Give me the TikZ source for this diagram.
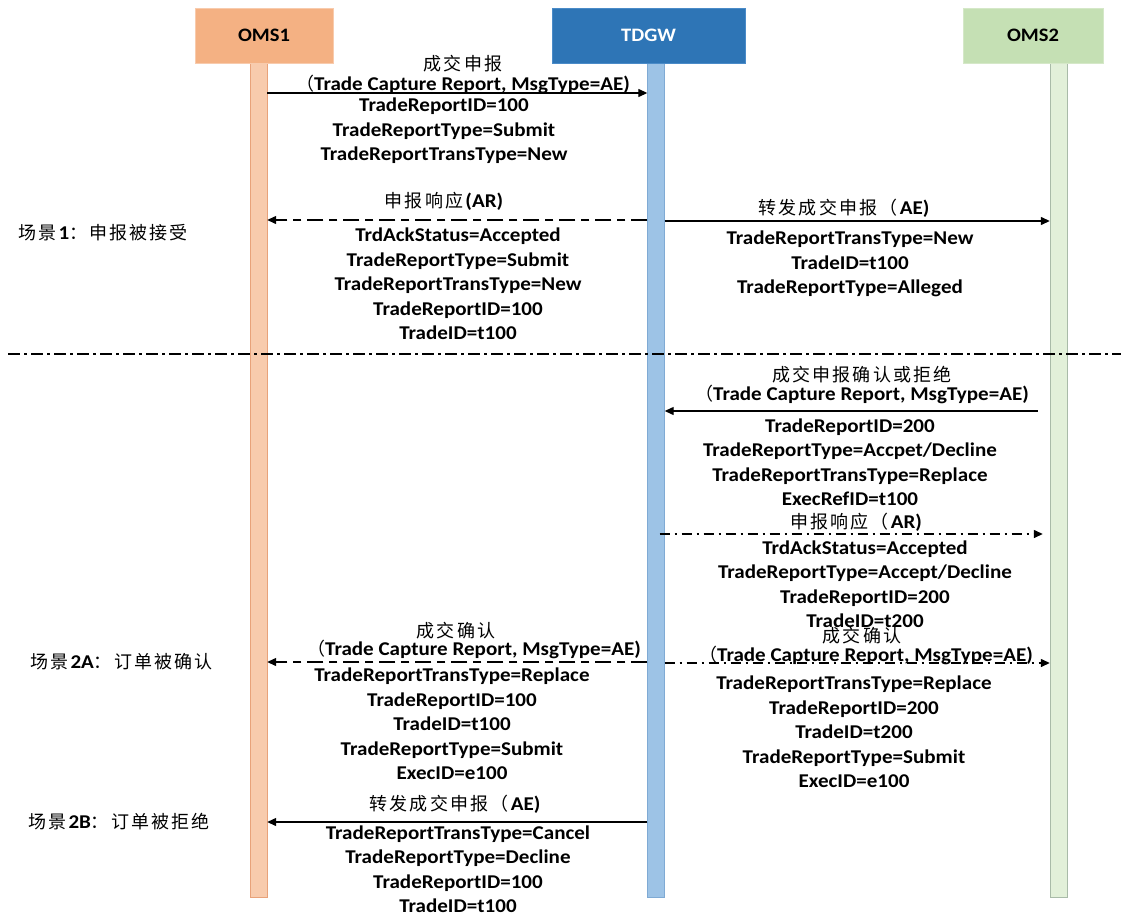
\documentclass[tikz,border=0pt]{standalone}
\usepackage{fontspec}
\setmainfont{Carlito}[FakeStretch=1.08]
\newfontfamily\cjk{Noto Sans CJK SC}[LetterSpace=12]
\usetikzlibrary{positioning,arrows.meta}
\definecolor{omsa}{HTML}{F4B183}
\definecolor{omsaline}{HTML}{F8CBAD}
\definecolor{omsalife}{HTML}{F8CBAD}
\definecolor{omsalifeline}{HTML}{E8A27A}
\definecolor{tdgw}{HTML}{2E75B6}
\definecolor{tdgwline}{HTML}{4A8BC8}
\definecolor{tdgwlife}{HTML}{9DC3E6}
\definecolor{tdgwlifeline}{HTML}{7FAAD4}
\definecolor{omsb}{HTML}{C5E0B4}
\definecolor{omsbline}{HTML}{D5E8C8}
\definecolor{omsblife}{HTML}{E2F0D9}
\definecolor{omsblifeline}{HTML}{A9BBA8}
\newcommand{\zh}[1]{{\cjk\mdseries\fontsize{18}{20}\selectfont #1}}

\begin{document}
\begin{tikzpicture}[x=1pt,y=-1pt,>={Triangle[length=9pt,width=8pt]}]
		\tikzstyle{head} = [draw, minimum width=138pt, minimum height=55pt, font=\bfseries\fontsize{19}{21}\selectfont]
		\tikzstyle{life} = [draw, minimum width=17pt, minimum height=834pt, inner sep=0pt]
		\tikzstyle{msg} = [align=center, inner sep=0pt, font=\bfseries\fontsize{19.5}{24.5}\selectfont]
		\tikzstyle{ttl} = [align=center, inner sep=0pt, font=\fontsize{19.5}{21}\selectfont]
		\tikzstyle{scene} = [anchor=west, inner sep=0pt, font=\fontsize{19.5}{21}\selectfont]
		\tikzstyle{wire} = [line width=1.3pt]
		\tikzstyle{ackdash} = [dash pattern=on 16pt off 6pt on 8pt off 6pt]
		\tikzstyle{dotdash} = [dash pattern=on 10pt off 5pt on 2pt off 5pt]
		\useasboundingbox (0,0) rectangle (1121,918);

		% lifelines
		\node [life, fill=omsalife, draw=omsalifeline] (l1) at (258.5,480) {};
		\node [life, fill=tdgwlife, draw=tdgwlifeline] (l2) at (656,480) {};
		\node [life, fill=omsblife, draw=omsblifeline] (l3) at (1058.5,480) {};
		\node [head, fill=omsa, draw=omsaline] (oms1) at (264,35.5) {OMS1};
		\node [head, fill=tdgw, draw=tdgwline, text=white, minimum width=193pt] (tdgw) at (648.5,35.5) {TDGW};
		\node [head, fill=omsb, draw=omsbline, minimum width=140pt] (oms2) at (1033,35.5) {OMS2};

		% scene 1
		\node [scene] (s1) at (18,233) {\zh{场景}\textbf{1}\zh{：申报被接受}};
		\draw[->,wire] (l1.east |- 0,93) -- (l2.west |- 0,93);
		\node [ttl] (t1) at (463,64) {\zh{成交申报}};
		\node [msg] (t1b) at (463,84) {\zh{（}Trade Capture Report, MsgType=AE)};
		\node [msg] (m1) at (444,131) {TradeReportID=100\\TradeReportType=Submit\\TradeReportTransType=New};

		\draw[->,wire,ackdash] (l2.west |- 0,220) -- (l1.east |- 0,220);
		\node [ttl] (t2) at (444,201) {\zh{申报响应}\textbf{(AR)}};
		\node [msg] (m2) at (458,284) {TrdAckStatus=Accepted\\TradeReportType=Submit\\TradeReportTransType=New\\TradeReportID=100\\TradeID=t100};

		\draw[->,wire] (l2.east |- 0,221) -- (l3.west |- 0,221);
		\node [ttl] (t3) at (844,208) {\zh{转发成交申报（}\textbf{AE)}};
		\node [msg] (m3) at (850,264) {TradeReportTransType=New\\TradeID=t100\\TradeReportType=Alleged};

		\coordinate (sepl) at (8,354);
		\coordinate (sepr) at (1121,354);
		\draw[wire,dash pattern=on 12pt off 4pt on 3pt off 4pt] (sepl) -- (sepr);

		% scene 2
		\draw[->,wire] ([xshift=-12pt]l3.west |- 0,411) -- (l2.east |- 0,411);
		\node [ttl] (t5) at (862,375) {\zh{成交申报确认或拒绝}};
		\node [msg] (t5b) at (862,394) {\zh{（}Trade Capture Report, MsgType=AE)};
		\node [msg] (m5) at (850,462) {TradeReportID=200\\TradeReportType=Accpet/Decline\\TradeReportTransType=Replace\\ExecRefID=t100};

		\draw[->,wire,dotdash] ([xshift=-5pt]l2.east |- 0,534) -- ([xshift=-7pt]l3.west |- 0,534);
		\node [ttl] (t6) at (856,522) {\zh{申报响应（}\textbf{AR)}};
		\node [msg] (m6) at (865,584) {TrdAckStatus=Accepted\\TradeReportType=Accept/Decline\\TradeReportID=200\\TradeID=t200};

		% scene 2A
		\node [scene] (s2a) at (30,662) {\zh{场景}\textbf{2A}\zh{：订单被确认}};
		\draw[->,wire,ackdash] (l2.west |- 0,662) -- (l1.east |- 0,662);
		\node [ttl] (t7) at (456,631) {\zh{成交确认}};
		\node [msg] (t7b) at (474,649) {\zh{（}Trade Capture Report, MsgType=AE)};
		\node [msg] (m7) at (452,724) {TradeReportTransType=Replace\\TradeReportID=100\\TradeID=t100\\TradeReportType=Submit\\ExecID=e100};

		\draw[->,wire,dotdash] (l2.east |- 0,663) -- (l3.west |- 0,663);
		\node [ttl] (t8) at (862,636) {\zh{成交确认}};
		\node [msg] (t8b) at (866,655) {\zh{（}Trade Capture Report, MsgType=AE)};
		\node [msg] (m8) at (854,732) {TradeReportTransType=Replace\\TradeReportID=200\\TradeID=t200\\TradeReportType=Submit\\ExecID=e100};

		% scene 2B
		\node [scene] (s2b) at (28,822) {\zh{场景}\textbf{2B}\zh{：订单被拒绝}};
		\draw[->,wire] (l2.west |- 0,822) -- (l1.east |- 0,822);
		\node [ttl] (t9) at (455,804) {\zh{转发成交申报（}\textbf{AE)}};
		\node [msg] (m9) at (458,869) {TradeReportTransType=Cancel\\TradeReportType=Decline\\TradeReportID=100\\TradeID=t100};
\end{tikzpicture}
\end{document}
